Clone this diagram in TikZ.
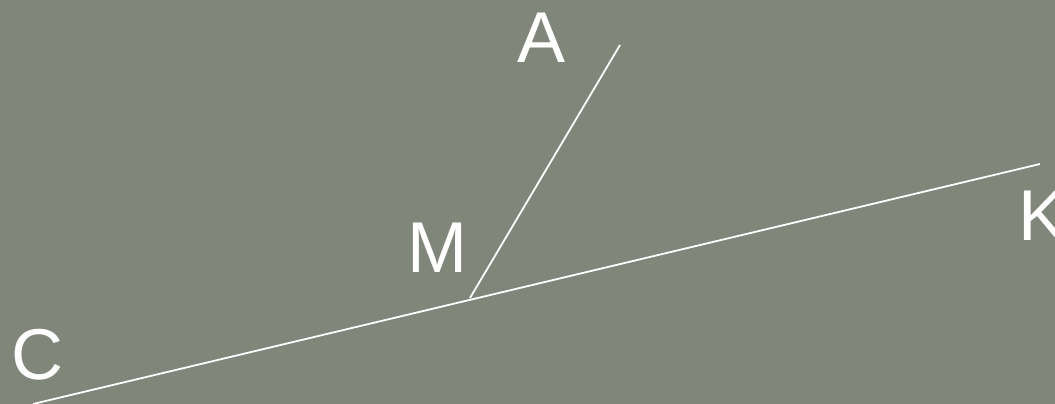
\documentclass[tikz,border=0pt]{standalone}
\usepackage{fontspec}
\setmainfont{Liberation Sans}
\usetikzlibrary{positioning}
\definecolor{boardgray}{RGB}{128,134,122}

\begin{document}
\begin{tikzpicture}[
    x=1pt, y=-1pt,
    ray/.style={draw=white, line width=1.8pt},
    letter/.style={text=white, inner sep=0pt, anchor=center,
                   font=\fontsize{72}{72}\selectfont}
]

\fill[boardgray] (0,0) rectangle (1055,404);
\useasboundingbox (0,0) rectangle (1055,404);
\clip (0,0) rectangle (1055,404);

\coordinate (C) at (33,404);
\coordinate (K) at (1040,164);
\coordinate (M) at (470,298);
\coordinate (A) at (620,45);

\draw[ray] (C) -- (K);
\draw[ray] (M) -- (A);

\node[letter] (lblA) at (542,38) {A};
\node[letter] (lblM) at (437,248) {M};
\node[letter] (lblC) at (37,355) {C};
\node[letter] (lblK) at (1043,216) {K};

\end{tikzpicture}
\end{document}
